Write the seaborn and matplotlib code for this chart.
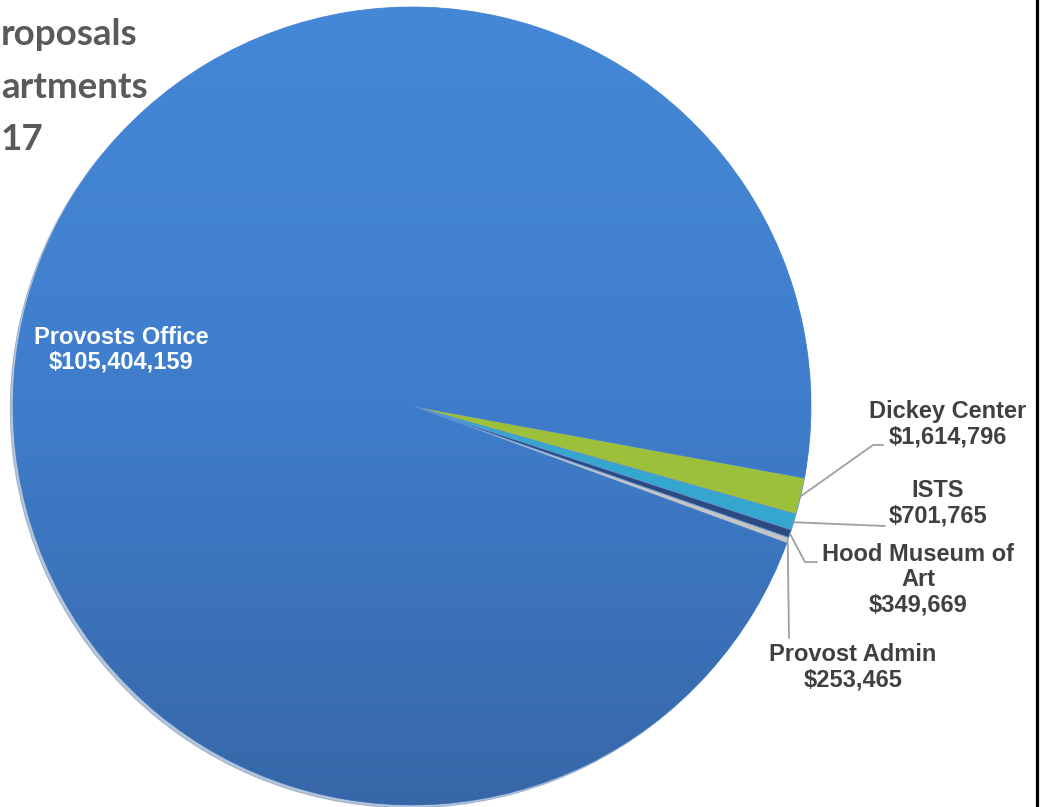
import numpy as np
import matplotlib.pyplot as plt
import seaborn as sns
from matplotlib.colors import LinearSegmentedColormap

# proposal dollars by department
departments = ['Provosts Office', 'Dickey Center', 'ISTS', 'Hood Museum of Art', 'Provost Admin']
label_names = ['Provosts Office', 'Dickey Center', 'ISTS', 'Hood Museum of\nArt', 'Provost Admin']
amounts = [105404159, 1614796, 701765, 349669, 253465]
slice_colors = ['#3F7DCB', '#9DC03A', '#35A7CF', '#2C4A80', '#C4C4C4']
# only the visible part of the title survives in the source picture
title_lines = ['roposals', 'artments', '17']

sns.set_theme(style='white')
plt.rcParams['font.family'] = ['Liberation Sans', 'DejaVu Sans']

W, H = 1042, 807
fig = plt.figure(figsize=(W / 100, H / 100), dpi=100)
ax = fig.add_axes([0, 0, 1, 1])

cx, cy, r = 412, H - 406, 399
share = np.array(amounts) / sum(amounts)
start = -10.4 - share[1:].sum() * 360

wedges, _ = ax.pie(amounts, colors=slice_colors, startangle=start, counterclock=False,
                   center=(cx, cy), radius=r, frame=True,
                   wedgeprops=dict(edgecolor='#5D93D6', linewidth=0.6),
                   shadow=dict(ox=-2, oy=-2, shade=0.3, alpha=0.35))

# soft vertical gradient on the big slice
grad = LinearSegmentedColormap.from_list('g', ['#3767A8', '#3F7DCB', '#4588D8'])
img = ax.imshow(np.linspace(0, 1, 256).reshape(-1, 1), cmap=grad, origin='lower',
                extent=[cx - r, cx + r, cy - r, cy + r], aspect='auto', zorder=wedges[0].zorder + 0.1)
img.set_clip_path(wedges[0])

ax.set_xlim(0, W)
ax.set_ylim(0, H)
ax.set_aspect('equal')
ax.axis('off')

# big slice label
ax.text(121, H - 350, f'{label_names[0]}\n${amounts[0]:,}', color='white', fontsize=17,
        fontweight='bold', ha='center', va='center', linespacing=1.1, zorder=5)

# outside labels with leader lines
label_pos = [None, (948, 424), (938, 503), (918, 580), (853, 667)]
elbows = [None, [(873, 445), (883, 445)], [(885, 526)], [(805, 562), (817, 562)], [(789, 638)]]
for i in range(1, len(amounts)):
    w = wedges[i]
    mid = np.deg2rad((w.theta1 + w.theta2) / 2)
    ax0, ay0 = cx + r * np.cos(mid), cy + r * np.sin(mid)
    xs = [ax0] + [p[0] for p in elbows[i]]
    ys = [ay0] + [H - p[1] for p in elbows[i]]
    ax.plot(xs, ys, color='#A0A0A0', lw=1.3, zorder=4)
    tx, ty = label_pos[i]
    ax.text(tx, H - ty, f'{label_names[i]}\n${amounts[i]:,}', color='#404040', fontsize=17,
            fontweight='bold', ha='center', va='center', linespacing=1.12, zorder=5)

# title lines at the left edge
title_pos = [(1, 45), (1, 98), (1, 150)]
for t, (tx, ty) in zip(title_lines, title_pos):
    fig.text(tx / W, 1 - ty / H, t, ha='left', va='baseline', fontsize=26.5,
             fontweight='bold', color='#5A5A5A', family=['Lato', 'DejaVu Sans'])

# right border
ax.plot([1037, 1037], [0, H], color='black', lw=2.3, zorder=6, clip_on=False)

fig.savefig('out.png', dpi=100)
